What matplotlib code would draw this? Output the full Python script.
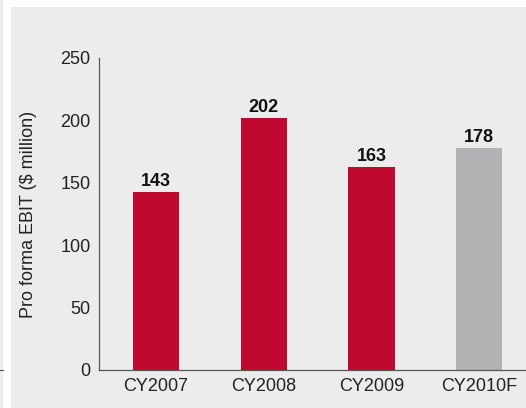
import matplotlib
matplotlib.use("Agg")
import matplotlib.pyplot as plt
from matplotlib.patches import Rectangle
from matplotlib.lines import Line2D

# ── Data ───────────────────────────────────────────────────────────────
categories = ["CY2007", "CY2008", "CY2009", "CY2010F"]
ebit = [143, 202, 163, 178]
yticks = [0, 50, 100, 150, 200, 250]

RED = "#c0092e"
GREY = "#b2b2b4"
PANEL = "#ebeceb"
bar_colors = [RED, RED, RED, GREY]

plt.rcParams["font.family"] = ["Liberation Sans", "DejaVu Sans"]

W, H = 526, 408
fig = plt.figure(figsize=(W / 100, H / 100), dpi=100)
fig.patch.set_facecolor("white")

# grey panel + thin strip at the far left (drawn beneath the axes)
fig.patches.append(Rectangle((11 / W, 0), 1, 1 - 7 / H, transform=fig.transFigure,
                             facecolor=PANEL, edgecolor="none", zorder=-5))
fig.patches.append(Rectangle((0, 0), 3 / W, 1, transform=fig.transFigure,
                             facecolor=PANEL, edgecolor="none", zorder=-5))
fig.lines.append(Line2D([0, 3 / W], [1 - 370 / H] * 2, transform=fig.transFigure,
                        color="#555555", lw=0.8, zorder=-4))

# axes: left spine at x=99px, y=0 at 370px, y=250 at 58px
ax = fig.add_axes([99 / W, 1 - 370 / H, (W - 99) / W, 312 / H])
ax.set_facecolor("none")

x = range(len(categories))
ax.bar(x, ebit, width=0.43, color=bar_colors, zorder=2)

for xi, v in zip(x, ebit):
    ax.text(xi, v + 1.5, str(v), ha="center", va="bottom",
            fontsize=13, fontweight="bold", color="#111111")

ax.set_ylim(0, 250)
ax.set_xlim(-0.53, 3.435)
ax.set_yticks(yticks)
ax.set_xticks(list(x))
ax.set_xticklabels(categories)
ax.tick_params(axis="both", length=0, labelsize=13, colors="#222222")
ax.tick_params(axis="y", pad=6)
ax.tick_params(axis="x", pad=6)

for s in ("top", "right"):
    ax.spines[s].set_visible(False)
for s in ("left", "bottom"):
    ax.spines[s].set_color("#555555")
    ax.spines[s].set_linewidth(0.9)

ax.set_ylabel("Pro forma EBIT ($ million)", fontsize=13, color="#222222", labelpad=17)

fig.savefig("out.png", dpi=100, facecolor=fig.get_facecolor())
